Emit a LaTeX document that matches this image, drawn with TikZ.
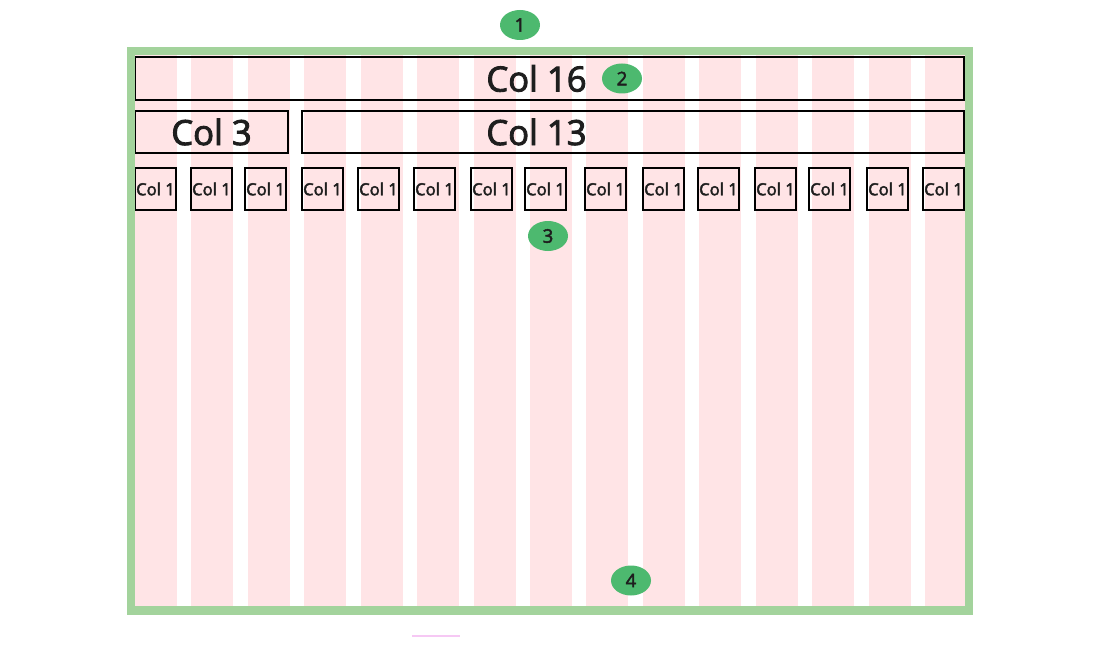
\documentclass[tikz,border=0pt]{standalone}
\usepackage{fontspec}
\setmainfont{Open Sans}
\newfontfamily\medfont[FakeBold=2.6]{Open Sans}
\usetikzlibrary{shapes.geometric}
\definecolor{gridPink}{RGB}{255,228,230}
\definecolor{frameGreen}{RGB}{163,211,156}
\definecolor{badgeGreen}{RGB}{77,185,111}
\definecolor{textDark}{RGB}{30,30,30}
\definecolor{faintMagenta}{RGB}{246,200,244}
\tikzset{
	colbox/.style={draw=black, line width=1.5pt, inner sep=0pt, text=textDark},
	bigtext/.style={font=\medfont\fontsize{26}{26}\selectfont, text=textDark},
	badge/.style={ellipse, fill=badgeGreen, minimum width=30pt, minimum height=22.5pt, inner sep=0pt, font=\medfont\fontsize{14}{14}\selectfont, text=textDark}
}

\begin{document}
\begin{tikzpicture}[x=0.75pt,y=0.75pt,yscale=-1,xscale=1]
	\useasboundingbox (0,0) rectangle (1100,660);
	
	%Shape: grid columns
	\foreach \i in {0,...,14}
		\fill [gridPink] ({135+56.43*\i},55) rectangle ({177+56.43*\i},606);
	
	%Shape: Rectangle rows
	\node [colbox, minimum width=621.75pt, minimum height=32.25pt, label={[bigtext, xshift=-9.75pt]center:Col 16}] (col16) at (549.5,78.5) {};
	\node [colbox, bigtext, minimum width=114.75pt, minimum height=31.5pt] (col3) at (211.5,132) {Col 3};
	\node [colbox, minimum width=496.5pt, minimum height=31.5pt, label={[bigtext, xshift=-72.4pt]center:Col 13}] (col13) at (633,132) {};
	
	%Shape: single columns
	\foreach \x [count=\n] in {135,191,245,302,358,414,471,525,585,643,698,755,809,867,923}
		\node [colbox, minimum width=30.75pt, minimum height=31.5pt, font=\medfont\fontsize{12.5}{12.5}\selectfont] (one\n) at ({\x+20.5},189) {Col 1};
	
	%Shape: outer frame
	\draw [frameGreen, line width=6.4pt] (131,51) rectangle (969,610.5);
	
	%Straight Lines
	\draw [faintMagenta, line width=1.2pt] (412,636) -- (460,636);
	
	% Badges
	\node [badge] (b1) at (520,25) {1};
	\node [badge] (b2) at (622,78.5) {2};
	\node [badge] (b3) at (548,236) {3};
	\node [badge] (b4) at (631,580.5) {4};
	
\end{tikzpicture}
\end{document}
